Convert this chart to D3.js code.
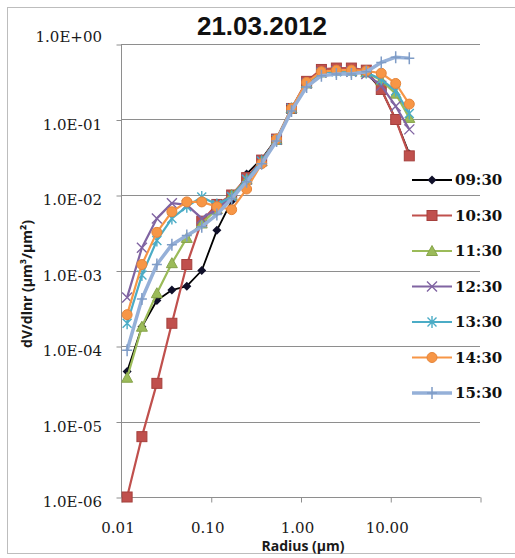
<!DOCTYPE html>
<html lang="en">
<head>
<meta charset="UTF-8">
<title>21.03.2012</title>
<script src="https://d3js.org/d3.v7.min.js"></script>
<style>
    body { margin: 0; background: #fff; }
    svg { display: block; }
    .grid { stroke: #8e8e8e; stroke-width: 1px; }
    .tl { font-family: "DejaVu Serif", serif; font-size: 15px; fill: #1a1a1a; }
    .ttl { font-family: "Open Sans", "Liberation Sans", sans-serif; font-weight: bold; font-size: 14px; fill: #1a1a1a; }
    .lg { font-family: "DejaVu Serif", serif; font-weight: bold; font-size: 15px; fill: #111; }
</style>
</head>
<body>
<svg></svg>
<script>
const [width, height] = [515, 558]

// radius (µm)
const radius = [0.0117, 0.0171, 0.0251, 0.0369, 0.0541, 0.0794, 0.117, 0.171, 0.251, 0.369,
                0.541, 0.794, 1.17, 1.71, 2.51, 3.69, 5.41, 7.94, 11.5, 16.3]

const times = ['09:30', '10:30', '11:30', '12:30', '13:30', '14:30', '15:30']

const s0930 = [4.6e-5, 1.8e-4, 4.0e-4, 5.5e-4, 6.2e-4, 1.0e-3, 3.4e-3, 8.3e-3, 1.9e-2, 3.0e-2,
               5.6e-2, 0.14, 0.31, 0.45, 0.48, 0.47, 0.42, 0.25, 0.10, 0.035]
const s1030 = [1.0e-6, 6.3e-6, 3.2e-5, 2.0e-4, 1.2e-3, 4.5e-3, 7.5e-3, 1.0e-2, 1.7e-2, 2.9e-2,
               5.5e-2, 0.14, 0.32, 0.46, 0.48, 0.48, 0.45, 0.25, 0.10, 0.033]
const s1130 = [3.8e-5, 1.8e-4, 5.0e-4, 1.25e-3, 2.7e-3, 4.2e-3, 6.5e-3, 1.0e-2, 1.6e-2, 2.8e-2,
               5.4e-2, 0.14, 0.30, 0.42, 0.44, 0.44, 0.42, 0.33, 0.22, 0.105]
const s1230 = [4.4e-4, 2.0e-3, 4.9e-3, 7.8e-3, 7.4e-3, 4.9e-3, 6.5e-3, 9.5e-3, 1.6e-2, 2.8e-2,
               5.4e-2, 0.14, 0.30, 0.42, 0.44, 0.43, 0.40, 0.28, 0.15, 0.074]
const s1330 = [2.0e-4, 8.7e-4, 2.5e-3, 4.9e-3, 7.0e-3, 9.4e-3, 7.5e-3, 9.5e-3, 1.6e-2, 2.8e-2,
               5.4e-2, 0.14, 0.30, 0.42, 0.43, 0.43, 0.42, 0.34, 0.24, 0.12]
const s1430 = [2.6e-4, 1.2e-3, 3.2e-3, 6.0e-3, 8.1e-3, 8.1e-3, 7.0e-3, 6.4e-3, 1.2e-2, 2.6e-2,
               5.5e-2, 0.14, 0.31, 0.43, 0.45, 0.45, 0.44, 0.41, 0.30, 0.16]
const s1530 = [8.8e-5, 4.2e-4, 1.2e-3, 2.2e-3, 2.9e-3, 3.8e-3, 5.5e-3, 9.0e-3, 1.5e-2, 2.6e-2,
               5.2e-2, 0.13, 0.27, 0.38, 0.40, 0.40, 0.43, 0.57, 0.67, 0.65]
const series = [s0930, s1030, s1130, s1230, s1330, s1430, s1530]

const yTicks = [1, 1e-1, 1e-2, 1e-3, 1e-4, 1e-5, 1e-6]
const yTickLabels = ['1.0E+00', '1.0E-01', '1.0E-02', '1.0E-03', '1.0E-04', '1.0E-05', '1.0E-06']
const xTicks = [0.01, 0.1, 1, 10]
const xTickLabels = ['0.01', '0.10', '1.00', '10.00']

const styles = [
    {color: '#000000', mark: 'diamond', w: 1.8},
    {color: '#c0504d', mark: 'square', w: 2.2},
    {color: '#9bbb59', mark: 'triangle', w: 2.2},
    {color: '#8064a2', mark: 'x', w: 2.2},
    {color: '#4bacc6', mark: 'star', w: 2.2},
    {color: '#f79646', mark: 'circle', w: 2.2},
    {color: '#95b0d8', mark: 'plus', w: 3.5},
]

const svg = d3.select('svg').attr('width', width).attr('height', height)

// chart frame
svg.append('rect').attr('x', 7.5).attr('y', 7.5).attr('width', 520).attr('height', 546)
    .attr('fill', 'none').attr('stroke', '#bdbdbd')

const x = d3.scaleLog().domain([0.01, 100]).range([121, 480])
const y = d3.scaleLog().domain([1e-6, 1]).range([497, 44])

// gridlines
svg.append('g').selectAll().data(yTicks.slice(0, -1)).join('line').attr('class', 'grid')
    .attr('x1', x(0.01)).attr('x2', x(100))
    .attr('y1', d => Math.round(y(d)) + 0.5).attr('y2', d => Math.round(y(d)) + 0.5)

// axes with minor ticks
const yAxis = d3.axisLeft(y).ticks(6).tickSize(5).tickFormat('')
svg.append('g').attr('transform', `translate(${x(0.01) + 0.5},0.5)`).call(yAxis)
    .call(g => g.selectAll('line,path').attr('stroke', '#8e8e8e'))
    .call(g => g.select('.domain').attr('d', `M0 ${y(1)}V${y(1e-6)}`))
const xAxis = d3.axisBottom(x).ticks(4).tickSize(5).tickFormat('')
svg.append('g').attr('transform', `translate(0.5,${y(1e-6) + 0.5})`).call(xAxis)
    .call(g => g.selectAll('line,path').attr('stroke', '#8e8e8e'))
    .call(g => g.select('.domain').attr('d', `M${x(0.01)} 0H${x(100)}`))

svg.append('g').selectAll().data(yTicks).join('text').attr('class', 'tl')
    .attr('x', 102).attr('y', (d, i) => y(d) + (i == 0 ? -2 : 10))
    .attr('text-anchor', 'end').text((d, i) => yTickLabels[i])
svg.append('g').selectAll().data(xTicks).join('text').attr('class', 'tl')
    .attr('x', d => x(d) - 3).attr('y', 533)
    .attr('text-anchor', 'middle').text((d, i) => xTickLabels[i])

// titles
svg.append('text').attr('x', 262).attr('y', 35).attr('text-anchor', 'middle')
    .style('font-family', '"Liberation Sans", Arial, sans-serif').style('font-weight', 'bold')
    .style('font-size', '26px').style('fill', '#111').text('21.03.2012')
svg.append('text').attr('class', 'ttl').attr('x', 303).attr('y', 551).attr('text-anchor', 'middle')
    .text('Radius (µm)')
svg.append('text').attr('class', 'ttl').attr('text-anchor', 'middle')
    .attr('transform', 'translate(32,284)rotate(-90)').text('dV/dlnr (µm³/µm²)')

const drawMarker = (g, st) => {
    const c = st.color
    switch (st.mark) {
        case 'diamond':
            g.append('path').attr('d', 'M0 -4.5L4.5 0L0 4.5L-4.5 0Z').attr('fill', '#10102a'); break
        case 'square':
            g.append('rect').attr('x', -5).attr('y', -5).attr('width', 10).attr('height', 10)
                .attr('fill', c).attr('stroke', '#a5403d'); break
        case 'triangle':
            g.append('path').attr('d', 'M0 -5.5L5.5 4.5L-5.5 4.5Z').attr('fill', c).attr('stroke', '#86a34a'); break
        case 'x':
            g.append('path').attr('d', 'M-5 -5L5 5M-5 5L5 -5').attr('stroke', c).attr('stroke-width', 1.4); break
        case 'star':
            g.append('path').attr('d', 'M-4.5 -4.5L4.5 4.5M-4.5 4.5L4.5 -4.5M0 -6V6').attr('stroke', c).attr('stroke-width', 1.4); break
        case 'circle':
            g.append('circle').attr('r', 5).attr('fill', c).attr('stroke', '#e5853a'); break
        case 'plus':
            g.append('path').attr('d', 'M-5 0H5M0 -6V6').attr('stroke', '#7f9cc6').attr('stroke-width', 1.5); break
    }
}

const line = d3.line().x((d, i) => x(radius[i])).y(d => y(d))

series.forEach((s, k) => {
    const st = styles[k]
    const g = svg.append('g')
    g.append('path').attr('d', line(s)).attr('fill', 'none').attr('stroke', st.color)
        .attr('stroke-width', st.w).attr('stroke-linejoin', 'round')
    g.selectAll().data(s).join('g')
        .attr('transform', (d, i) => `translate(${x(radius[i])},${y(d)})`)
        .each(function () { drawMarker(d3.select(this), st) })
})

// legend
const lg = svg.append('g').selectAll().data(times).join('g')
    .attr('transform', (d, i) => `translate(412,${180 + i * 35.5})`)
lg.append('line').attr('x1', 0).attr('x2', 40).attr('stroke', (d, i) => styles[i].color)
    .attr('stroke-width', (d, i) => styles[i].w)
lg.each(function (d, i) {
    drawMarker(d3.select(this).append('g').attr('transform', 'translate(20,0)'), styles[i])
})
lg.append('text').attr('class', 'lg').attr('x', 43).attr('y', 5).text(d => d)
</script>
</body>
</html>
